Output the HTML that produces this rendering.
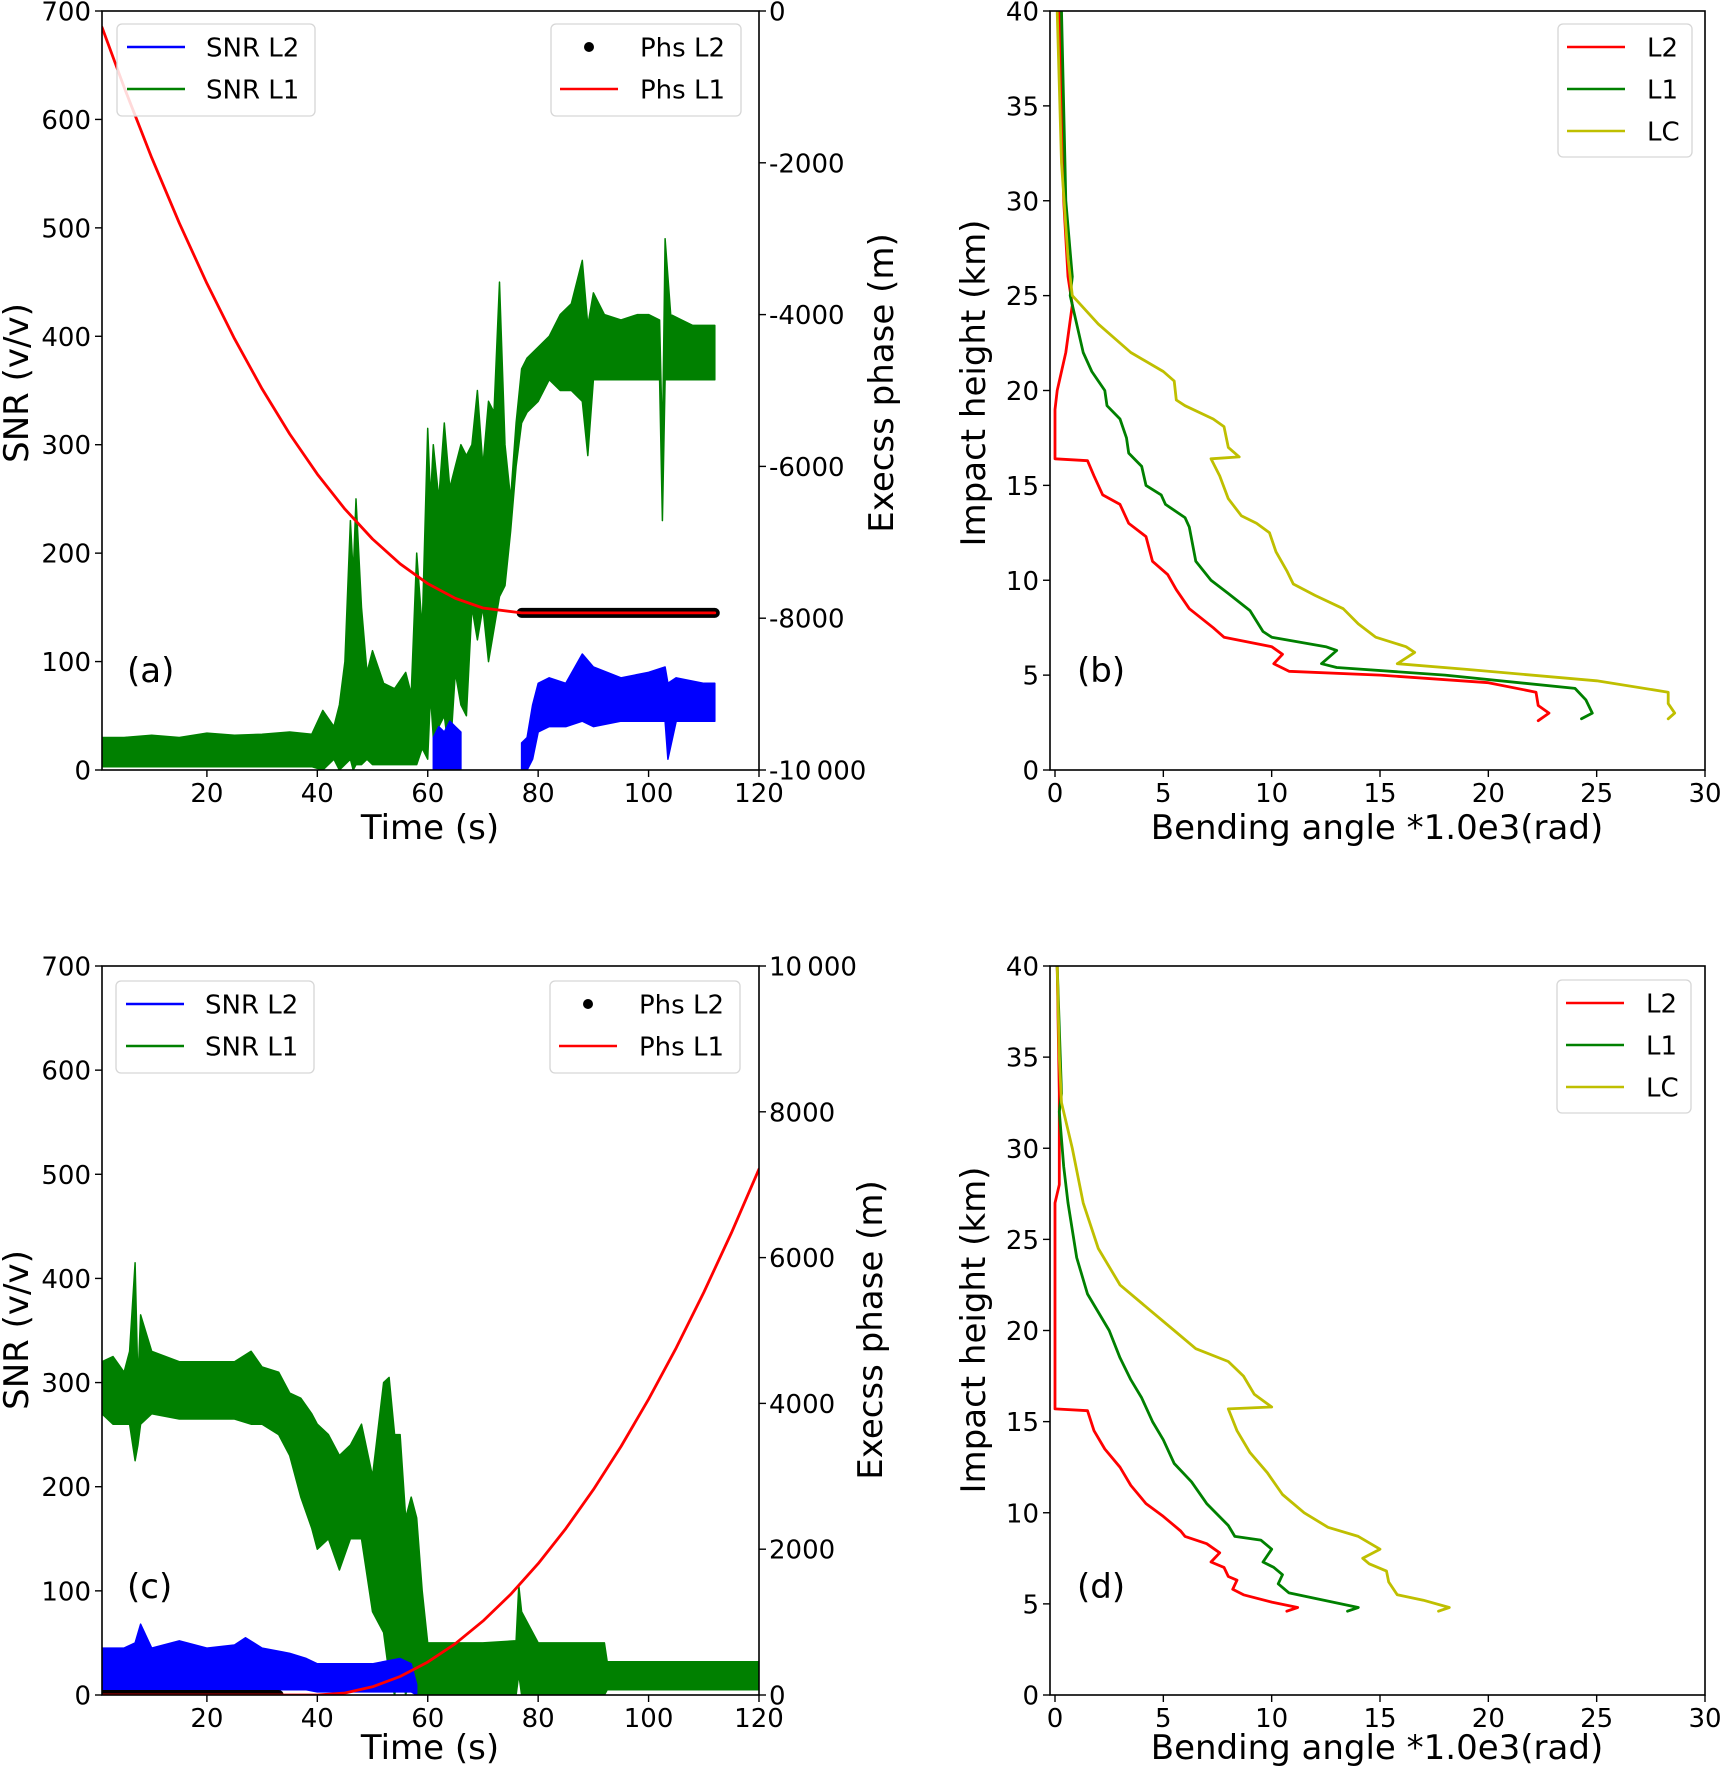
<!DOCTYPE html>
<html><head><meta charset="utf-8"><title>GNSS RO SNR, excess phase and bending angle profiles</title>
<style>
html,body{margin:0;padding:0;background:#fff;}
svg{display:block;font-family:"DejaVu Sans","Liberation Sans",sans-serif;}
</style></head>
<body>
<svg id="fig" width="1721" height="1772" viewBox="0 0 1721 1772" xmlns="http://www.w3.org/2000/svg"></svg>
<script>
// ---------- Panel (a) data ----------
const aGreenT  = [1,5,10,15,20,25,30,35,39,41,43,44,45,46,46.5,47,48,49,50,52,54,56,57,58,59,60,60.5,61,62,63,64,65,66,67,68,69,70,71,72,73,74,75,76,77,78,80,82,84,86,88,89,90,92,95,98,100,102,102.5,103,104,106,108,110,112];
const aGreenHi = [30,30,32,30,34,32,33,35,33,55,40,60,100,230,180,250,150,90,110,80,75,90,70,200,130,315,250,300,250,320,260,280,300,290,300,350,280,340,330,450,300,250,320,370,380,390,400,420,430,470,410,440,420,415,420,420,415,300,490,420,415,410,410,410];
const aGreenLo = [3,3,3,3,3,3,3,3,3,0,10,0,5,10,0,5,5,10,5,5,5,5,5,5,20,10,70,30,40,50,10,90,60,50,150,120,150,100,130,160,170,220,280,320,330,340,360,350,350,340,290,360,360,360,360,360,360,230,360,360,360,360,360,360];
const aBlue1T  = [61,62,63,64,65,66];
const aBlue1Hi = [30,40,35,45,40,35];
const aBlue1Lo = [0,0,0,0,0,0];
const aBlue2T  = [77,78,79,80,82,85,88,90,95,100,103,103.5,105,110,112];
const aBlue2Hi = [25,30,60,80,85,80,107,95,85,90,95,80,85,80,80];
const aBlue2Lo = [0,0,10,35,40,40,45,40,45,45,45,10,45,45,45];
const aPhsT    = [1,5,10,15,20,25,30,35,40,45,50,55,60,65,70,77,80,90,100,112];
const aPhsL1   = [-214,-1004,-1933,-2794,-3589,-4317,-4979,-5573,-6101,-6562,-6956,-7283,-7544,-7738,-7865,-7930,-7930,-7930,-7930,-7930];
const aPhsL2T  = [77,112];
const aPhsL2   = [-7930,-7930];
// ---------- Panel (c) data ----------
const cGreenT  = [1,3,5,6,7,7.5,8,10,15,20,25,28,30,33,35,37,39,40,42,44,46,48,50,52,53,54,55,56,57,58,59,60,62,70,76,76.5,77,80,88,92,92.5,100,110,120];
const cGreenHi = [320,325,310,330,415,300,365,330,320,320,320,330,315,310,290,285,270,260,250,230,240,260,210,300,305,250,250,170,190,170,100,50,50,50,52,105,80,50,50,50,32,32,32,32];
const cGreenLo = [270,260,260,260,225,240,260,270,265,265,265,260,260,250,230,190,160,140,150,120,150,150,80,60,20,0,30,0,20,0,0,0,0,0,0,20,0,0,0,0,5,5,5,5];
const cBlueT   = [1,5,7,8,10,15,20,25,27,30,35,38,40,45,50,55,57,58];
const cBlueHi  = [45,45,50,68,45,52,45,48,55,45,40,35,30,30,30,35,30,10];
const cBlueLo  = [5,5,5,5,5,5,5,5,5,5,5,5,3,3,3,3,3,0];
const cPhsT    = [1,10,20,30,40,45,50,55,60,65,70,75,80,85,90,95,100,105,110,115,120];
const cPhsL1   = [0,0,0,0,0,28,113,254,451,704,1014,1380,1803,2282,2818,3409,4057,4761,5522,6339,7214];
const cPhsL2T  = [1,33];
const cPhsL2   = [0,0];
// ---------- Panel (b) data (bending angle, height) ----------
const bL2x = [0.2,0.4,0.6,0.8,0.5,0.1,0,0,1.5,1.8,2.2,3,3.4,4.2,4.5,5.2,5.6,6.2,7.3,7.8,10,10.5,10.1,10.8,15,20,22.2,22.3,22.8,22.3];
const bL2y = [40,30,26,24.5,22,20,19,16.4,16.3,15.5,14.5,14,13,12.3,11,10.3,9.5,8.5,7.5,7,6.5,6.1,5.6,5.2,5.0,4.6,4.1,3.4,3.0,2.6];
const bL1x = [0.3,0.5,0.8,0.7,1.3,1.7,2.3,2.4,3,3.3,3.4,4,4.2,4.9,5.1,6,6.2,6.5,7.2,8,9,9.6,10,12.5,13,12.3,13,18,24,24.5,24.8,24.3];
const bL1y = [40,30,26,25,22,21,20,19.2,18.5,17.5,16.7,16,15,14.5,14,13.3,12.8,11,10,9.3,8.4,7.3,7,6.5,6.3,5.6,5.4,5.0,4.3,3.7,3.0,2.7];
const bLCx = [0.1,0.3,0.6,0.8,2,3.5,5,5.5,5.6,6,7.3,7.8,8,8.5,7.2,7.6,8,8.6,9.3,9.9,10.2,10.7,11,12,13.3,14,14.8,16.2,16.6,15.8,19,25,28.3,28.3,28.6,28.3];
const bLCy = [40,32,27,25,23.5,22,21,20.5,19.5,19.2,18.5,18.1,17,16.5,16.4,15.5,14.3,13.4,13,12.5,11.5,10.5,9.8,9.2,8.5,7.7,7,6.5,6.2,5.6,5.3,4.7,4.1,3.5,3.0,2.7];
// ---------- Panel (d) data ----------
const dL2x = [0.1,0.2,0.2,0,0,1.5,1.8,2.3,3,3.5,4.2,5,5.8,6,7,7.6,7.2,7.8,8,8.4,8.2,8.7,10,11.2,10.7];
const dL2y = [40,33,28,27,15.7,15.6,14.5,13.5,12.5,11.5,10.5,9.8,9,8.7,8.3,7.8,7.3,7,6.5,6.3,5.8,5.5,5.1,4.8,4.6];
const dL1x = [0.1,0.3,0.2,0.4,0.6,1,1.5,2.5,3,3.5,4,4.5,5,5.5,6.3,7,8,8.3,9.5,10,9.6,10.1,10.5,10.3,10.8,12,14,13.5];
const dL1y = [40,33,32,29,27,24,22,20,18.5,17.3,16.3,15,14,12.7,11.7,10.5,9.3,8.7,8.5,8,7.3,7,6.6,6.1,5.6,5.3,4.8,4.6];
const dLCx = [0.1,0.2,0.3,0.8,1.3,2,3,4.5,5.5,6.5,8,8.7,9.2,10,8,8.4,9,9.8,10.5,11.5,12.6,14,15,14.2,14.5,15.3,15.4,15.8,17,18.2,17.7];
const dLCy = [40,35,32.5,30,27,24.5,22.5,21,20,19,18.3,17.5,16.5,15.8,15.7,14.5,13.3,12.2,11,10,9.2,8.7,8,7.5,7.2,6.8,6.2,5.5,5.2,4.8,4.6];
// ---------- Tick labels ----------
const timeTicks = [20,40,60,80,100,120];
const snrTicks = [0,100,200,300,400,500,600,700];
const phaseTicksA = [0,-2000,-4000,-6000,-8000,-10000];
const phaseTicksC = [0,2000,4000,6000,8000,10000];
const bendTicks = [0,5,10,15,20,25,30];
const heightTicks = [0,5,10,15,20,25,30,35,40];

const NS = "http://www.w3.org/2000/svg";
const svg = document.getElementById('fig');
function el(tag, attrs, parent, text){
  const e = document.createElementNS(NS, tag);
  for (const k in attrs) e.setAttribute(k, attrs[k]);
  if (text !== undefined) e.textContent = text;
  (parent || svg).appendChild(e);
  return e;
}
function fmt(v){ const s = String(Math.abs(v)); const t = Math.abs(v)>=10000 ? s.slice(0,2)+'\u2009'+s.slice(2) : s; return (v<0?'-':'')+t; }
function makeScale(d0,d1,p0,p1){ return v => p0 + (v-d0)/(d1-d0)*(p1-p0); }

function makePanel(name, L, T, R, B){
  const g = el('g', {});
  
  
  const clipId = 'clip-' + name;
  const cp = el('clipPath', {id: clipId}, g);
  el('rect', {x:L, y:T, width:R-L, height:B-T}, cp);
  const plot = el('g', {'clip-path':'url(#'+clipId+')'}, g);
  
  
  return {g, plot, L, T, R, B};
}
function frame(p){
  const f = el('rect', {x:p.L, y:p.T, width:p.R-p.L, height:p.B-p.T, fill:'none', stroke:'#000', 'stroke-width':1.6}, p.g);
  
  
}
function xTicks(p, sx, ticks, name){
  const g = el('g', {}, p.g);
  
  
  ticks.forEach(v => {
    const x = sx(v);
    el('line', {x1:x, y1:p.B, x2:x, y2:p.B+7, stroke:'#000', 'stroke-width':1.4}, g);
    const t = el('text', {x:x, y:p.B+32, 'font-size':26, 'text-anchor':'middle'}, g, fmt(v));
    
    
  });
}
function yTicks(p, sy, ticks, name, side){
  const g = el('g', {}, p.g);
  
  
  ticks.forEach(v => {
    const y = sy(v);
    if (side === 'left'){
      el('line', {x1:p.L-7, y1:y, x2:p.L, y2:y, stroke:'#000', 'stroke-width':1.4}, g);
      const t = el('text', {x:p.L-11, y:y+9.5, 'font-size':26, 'text-anchor':'end'}, g, fmt(v));
      
      
    } else {
      el('line', {x1:p.R, y1:y, x2:p.R+7, y2:y, stroke:'#000', 'stroke-width':1.4}, g);
      const t = el('text', {x:p.R+10, y:y+9.5, 'font-size':26, 'text-anchor':'start'}, g, fmt(v));
      
      
    }
  });
}
function band(p, sx, sy, T, H, Lo, color, name){
  let d = '';
  T.forEach((t,i)=>{ d += (i?'L':'M') + sx(t).toFixed(1) + ',' + sy(H[i]).toFixed(1); });
  for (let i=T.length-1;i>=0;i--) d += 'L' + sx(T[i]).toFixed(1) + ',' + sy(Lo[i]).toFixed(1);
  d += 'Z';
  const e = el('path', {d:d, fill:color, stroke:color, 'stroke-width':1.5, 'stroke-linejoin':'round'}, p.plot);
  
  
}
function line(p, sx, sy, X, Y, color, w, name){
  const pts = X.map((x,i)=> sx(x).toFixed(1)+','+sy(Y[i]).toFixed(1)).join(' ');
  const e = el('polyline', {points:pts, fill:'none', stroke:color, 'stroke-width':w, 'stroke-linejoin':'round', 'stroke-linecap':'round'}, p.plot);
  
  
}
function label(x, y, txt, size, rot, name){
  const t = el('text', {x:x, y:y, 'font-size':size, 'text-anchor':'middle'}, svg, txt);
  if (rot) t.setAttribute('transform', 'rotate(-90 '+x+' '+y+')');
  
  
}
function legendBox(x, y, w, h, name){
  const g = el('g', {});
  
  
  el('rect', {x:x, y:y, width:w, height:h, rx:5, fill:'#fff', 'fill-opacity':0.85, stroke:'#d6d6d6', 'stroke-width':1.3}, g);
  return g;
}
function legendLine(g, x, y, color, txt, tx, name){
  const e = el('g', {}, g);
  
  
  el('line', {x1:x, y1:y, x2:x+58, y2:y, stroke:color, 'stroke-width':2.6}, e);
  el('text', {x:tx, y:y+9.5, 'font-size':26}, e, txt);
}
function legendDot(g, x, y, txt, tx, name){
  const e = el('g', {}, g);
  
  
  el('circle', {cx:x, cy:y, r:5, fill:'#000'}, e);
  el('text', {x:tx, y:y+9.5, 'font-size':26}, e, txt);
}

const CT = 966, CB = 1695; // bottom row vertical extent

// ================= Panel (a) =================
(function(){
  const p = makePanel('panel-a', 102, 11, 759, 770);
  const sx = makeScale(1,120,102,759);
  const sy = makeScale(0,700,770,11);
  const sy2 = makeScale(-10000,0,770,11);
  band(p, sx, sy, aGreenT, aGreenHi, aGreenLo, '#008000', 'snr-l1-series');
  band(p, sx, sy, aBlue1T, aBlue1Hi, aBlue1Lo, '#0000ff', 'snr-l2-series-part1');
  band(p, sx, sy, aBlue2T, aBlue2Hi, aBlue2Lo, '#0000ff', 'snr-l2-series-part2');
  line(p, sx, sy2, aPhsL2T, aPhsL2, '#000', 10, 'phs-l2-series');
  line(p, sx, sy2, aPhsT, aPhsL1, '#ff0000', 2.8, 'phs-l1-series');
  frame(p);
  xTicks(p, sx, timeTicks, 'x-axis-ticks');
  yTicks(p, sy, snrTicks, 'y-axis-ticks', 'left');
  yTicks(p, sy2, phaseTicksA, 'y2-axis-ticks', 'right');
  const t = el('text', {x:127, y:682, 'font-size':34}, p.g, '(a)');
   
  const lg = legendBox(117, 24, 198, 92, 'legend-snr');
  legendLine(lg, 127, 47, '#0000ff', 'SNR L2', 206, 'legend-entry-snr-l2');
  legendLine(lg, 127, 89, '#008000', 'SNR L1', 206, 'legend-entry-snr-l1');
  const lg2 = legendBox(551, 24, 190, 92, 'legend-phase');
  legendDot(lg2, 589, 47, 'Phs L2', 640, 'legend-entry-phs-l2');
  legendLine(lg2, 560, 89, '#ff0000', 'Phs L1', 640, 'legend-entry-phs-l1');
})();
label(430, 839, 'Time (s)', 34, false, 'x-axis-title-a');
label(28, 383, 'SNR (v/v)', 34, true, 'y-axis-title-a');
label(893, 383, 'Execss phase (m)', 34, true, 'y2-axis-title-a');

// ================= Panel (b) =================
(function(){
  const p = makePanel('panel-b', 1050, 11, 1705, 770);
  const sx = makeScale(0,30,1055,1705);
  const sy = makeScale(0,40,770,11);
  line(p, sx, sy, bL2x, bL2y, '#ff0000', 2.8, 'profile-l2');
  line(p, sx, sy, bL1x, bL1y, '#008000', 2.8, 'profile-l1');
  line(p, sx, sy, bLCx, bLCy, '#bfbf00', 2.8, 'profile-lc');
  frame(p);
  xTicks(p, sx, bendTicks, 'x-axis-ticks');
  yTicks(p, sy, heightTicks, 'y-axis-ticks', 'left');
  const t = el('text', {x:1077, y:682, 'font-size':34}, p.g, '(b)');
   
  const lg = legendBox(1558, 24, 134, 133, 'legend-profiles');
  legendLine(lg, 1567, 47, '#ff0000', 'L2', 1647, 'legend-entry-l2');
  legendLine(lg, 1567, 89, '#008000', 'L1', 1647, 'legend-entry-l1');
  legendLine(lg, 1567, 131, '#bfbf00', 'LC', 1647, 'legend-entry-lc');
})();
label(1377, 839, 'Bending angle *1.0e3(rad)', 34, false, 'x-axis-title-b');
label(985, 383, 'Impact height (km)', 34, true, 'y-axis-title-b');

// ================= Panel (c) =================
(function(){
  const p = makePanel('panel-c', 102, CT, 759, CB);
  const sx = makeScale(1,120,102,759);
  const sy = makeScale(0,700,CB,CT);
  const sy2 = makeScale(0,10000,CB,CT);
  band(p, sx, sy, cGreenT, cGreenHi, cGreenLo, '#008000', 'snr-l1-series');
  band(p, sx, sy, cBlueT, cBlueHi, cBlueLo, '#0000ff', 'snr-l2-series');
  line(p, sx, sy2, cPhsL2T, cPhsL2, '#000', 10, 'phs-l2-series');
  line(p, sx, sy2, cPhsT, cPhsL1, '#ff0000', 2.8, 'phs-l1-series');
  frame(p);
  xTicks(p, sx, timeTicks, 'x-axis-ticks');
  yTicks(p, sy, snrTicks, 'y-axis-ticks', 'left');
  yTicks(p, sy2, phaseTicksC, 'y2-axis-ticks', 'right');
  const t = el('text', {x:127, y:1598, 'font-size':34}, p.g, '(c)');
   
  const lg = legendBox(116, CT+15, 198, 92, 'legend-snr');
  legendLine(lg, 126, CT+38, '#0000ff', 'SNR L2', 205, 'legend-entry-snr-l2');
  legendLine(lg, 126, CT+80, '#008000', 'SNR L1', 205, 'legend-entry-snr-l1');
  const lg2 = legendBox(550, CT+15, 190, 92, 'legend-phase');
  legendDot(lg2, 588, CT+38, 'Phs L2', 639, 'legend-entry-phs-l2');
  legendLine(lg2, 559, CT+80, '#ff0000', 'Phs L1', 639, 'legend-entry-phs-l1');
})();
label(430, 1759, 'Time (s)', 34, false, 'x-axis-title-c');
label(28, 1330, 'SNR (v/v)', 34, true, 'y-axis-title-c');
label(882, 1330, 'Execss phase (m)', 34, true, 'y2-axis-title-c');

// ================= Panel (d) =================
(function(){
  const p = makePanel('panel-d', 1050, CT, 1705, CB);
  const sx = makeScale(0,30,1055,1705);
  const sy = makeScale(0,40,CB,CT);
  line(p, sx, sy, dL2x, dL2y, '#ff0000', 2.8, 'profile-l2');
  line(p, sx, sy, dL1x, dL1y, '#008000', 2.8, 'profile-l1');
  line(p, sx, sy, dLCx, dLCy, '#bfbf00', 2.8, 'profile-lc');
  frame(p);
  xTicks(p, sx, bendTicks, 'x-axis-ticks');
  yTicks(p, sy, heightTicks, 'y-axis-ticks', 'left');
  const t = el('text', {x:1077, y:1598, 'font-size':34}, p.g, '(d)');
   
  const lg = legendBox(1557, CT+14, 134, 133, 'legend-profiles');
  legendLine(lg, 1566, CT+37, '#ff0000', 'L2', 1646, 'legend-entry-l2');
  legendLine(lg, 1566, CT+79, '#008000', 'L1', 1646, 'legend-entry-l1');
  legendLine(lg, 1566, CT+121, '#bfbf00', 'LC', 1646, 'legend-entry-lc');
})();
label(1377, 1759, 'Bending angle *1.0e3(rad)', 34, false, 'x-axis-title-d');
label(985, 1330, 'Impact height (km)', 34, true, 'y-axis-title-d');
</script>
</body></html>
